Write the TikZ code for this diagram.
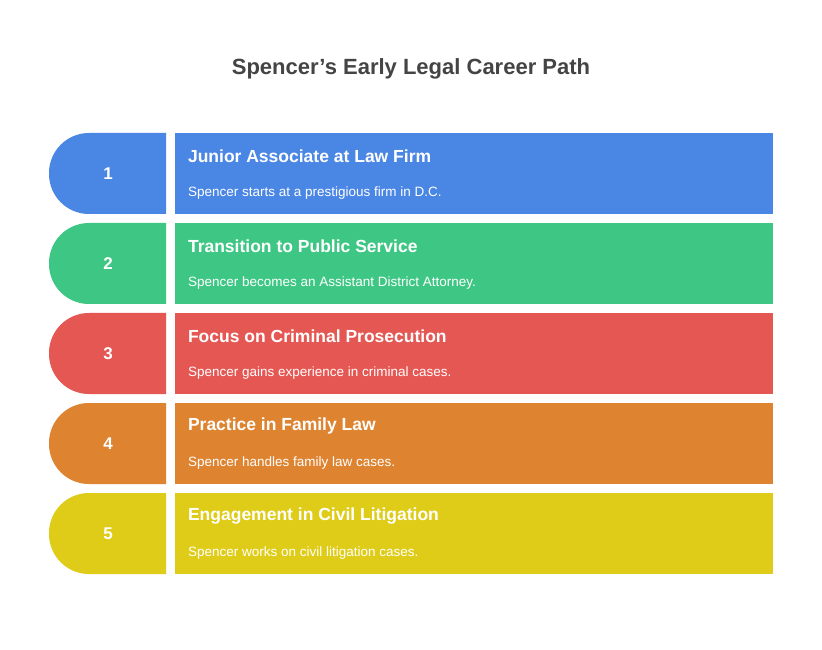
\documentclass[tikz,border=0pt]{standalone}
\usepackage{fontspec}
\setmainfont{Liberation Sans}
\usetikzlibrary{positioning}
\definecolor{stepblue}{HTML}{4A86E4}
\definecolor{stepgreen}{HTML}{3EC784}
\definecolor{stepred}{HTML}{E55753}
\definecolor{steporange}{HTML}{DE8430}
\definecolor{stepyellow}{HTML}{DFCC18}
\definecolor{titlegray}{HTML}{444444}
\tikzset{
  numtext/.style={text=white, font=\bfseries\fontsize{17}{20}\selectfont},
  headtext/.style={text=white, anchor=west, font=\bfseries\fontsize{17.5}{21}\selectfont},
  subtext/.style={text=white, anchor=west, font=\fontsize{13.5}{16}\selectfont},
}
\begin{document}
\begin{tikzpicture}[x=1pt, y=1pt]
  \useasboundingbox[fill=white] (0,0) rectangle (822,649);

  \node[text=titlegray, font=\bfseries\fontsize{22}{26}\selectfont] (title) at (411,580) {Spencer\symbol{39}s Early Legal Career Path};

  % rows
  \foreach \i/\col/\head/\sub in {
      1/stepblue/Junior Associate at Law Firm/Spencer starts at a prestigious firm in D.C.,
      2/stepgreen/Transition to Public Service/Spencer becomes an Assistant District Attorney.,
      3/stepred/Focus on Criminal Prosecution/Spencer gains experience in criminal cases.,
      4/steporange/Practice in Family Law/Spencer handles family law cases.,
      5/stepyellow/Engagement in Civil Litigation/Spencer works on civil litigation cases.} {
    \pgfmathsetmacro{\rowtop}{516-(\i-1)*90}
    \pgfmathsetmacro{\rowbot}{\rowtop-81}
    \fill[\col] (166,\rowtop) [rounded corners=40pt] -- (49,\rowtop) -- (49,\rowbot) [sharp corners] -- (166,\rowbot) -- cycle;
    \fill[\col] (175,\rowtop) rectangle (773,\rowbot);
    \node[numtext] (num\i) at (108,\rowtop-40.5) {\i};
    \node[headtext] (head\i) at (184.5,\rowtop-23) {\head};
    \node[subtext] (sub\i) at (184.5,\rowtop-60) {\sub};
  }
\end{tikzpicture}
\end{document}
